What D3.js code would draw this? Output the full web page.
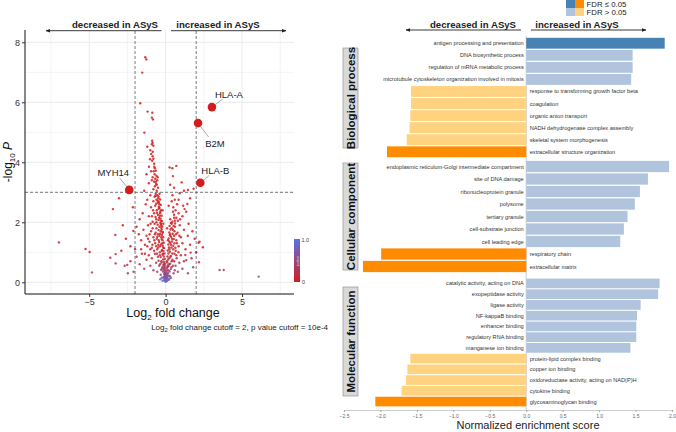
<!DOCTYPE html>
<html><head><meta charset="utf-8">
<script src="https://cdn.jsdelivr.net/npm/d3@7"></script>
<style>body{margin:0;background:#fff}svg{display:block;font-family:"Liberation Sans",Arial,Helvetica,sans-serif}</style>
</head><body><svg id="c" width="676" height="432"></svg>
<script>
// ---------------- Volcano data ----------------
const volcanoPoints = [
[-1.33,7.50],[-1.26,7.43],[-1.53,6.99],[-1.66,5.97],[-1.18,5.69],[-0.87,5.65],[-0.90,5.49],[-0.83,5.43],[-1.39,4.99],[-0.88,4.72],[-0.85,4.65],[-0.90,4.60],[-0.80,4.55],[-1.20,4.52],[-1.00,4.40],[-0.94,4.28],[-0.85,4.20],[-0.80,4.12],[-0.88,4.05],[-1.09,3.85],[-0.75,3.95],[-0.70,3.80],[-0.78,3.70],[-0.65,3.72],[-0.72,3.60],[-0.60,3.55],[-0.85,3.50],[-0.68,3.45],[-0.55,3.40],[-0.75,3.35],[-0.62,3.28],[-0.70,3.20],[-0.50,3.15],[-0.80,3.10],[-0.58,3.05],[0.26,3.83],[0.70,3.88],[0.44,3.80],[0.48,3.54],[1.05,3.33],[0.30,3.25],[0.55,3.15],[1.46,3.08],[1.83,3.12],[1.20,3.05],[-1.10,3.30],[-1.25,3.60],
[-3.05,2.80],[-3.45,2.44],[-2.14,2.50],[0.92,2.97],[1.24,2.44],[1.42,2.61],[-0.65,2.95],[-0.55,2.90],[-0.72,2.85],[-0.48,2.80],[-0.60,2.75],[-0.80,2.70],[-0.50,2.65],[-0.40,2.60],[-0.68,2.55],[-0.95,2.50],[-0.45,2.45],[-0.58,2.40],[-0.35,2.35],[-0.75,2.30],[-0.50,2.25],[-1.10,2.20],[-0.42,2.15],[-0.62,2.10],[-0.30,2.05],[-0.85,2.02],[-1.30,2.60],[-1.50,2.30],[-1.70,2.10],[-1.20,2.75],[0.45,2.90],[0.60,2.75],[0.75,2.60],[0.50,2.50],[0.65,2.40],[0.85,2.30],[0.55,2.25],[0.70,2.15],[0.95,2.10],[0.60,2.05],[1.10,2.20],[0.40,2.70],[1.60,2.80],[1.35,2.35],[-0.20,2.40],[0.20,2.55],
[-3.29,1.58],[-6.98,1.33],[-2.11,1.71],[2.16,1.32],[-5.24,1.11],[-4.97,1.01],[2.22,1.35],[2.44,1.17],[-2.60,1.45],[-2.30,1.20],[-1.90,1.85],[-1.75,1.60],[-1.60,1.40],[-1.45,1.75],[-1.35,1.25],[-1.25,1.55],[-1.15,1.90],[-1.05,1.35],[-0.95,1.70],[-0.90,1.15],[-0.80,1.50],[-0.72,1.95],[-0.68,1.30],[-0.60,1.80],[-0.55,1.10],[-0.50,1.60],[-0.45,1.40],[-0.40,1.85],[-0.36,1.20],[-0.32,1.70],[-0.28,1.50],[-0.25,1.05],[-0.22,1.30],[-0.40,1.55],[-0.48,1.25],[-0.58,1.45],[-0.65,1.65],[-0.75,1.05],[-0.85,1.80],[-1.00,1.10],[0.40,1.95],[0.48,1.75],[0.55,1.55],[0.62,1.85],[0.70,1.40],[0.78,1.65],[0.85,1.20],[0.92,1.90],[1.00,1.50],[1.10,1.30],[1.20,1.75],[1.30,1.10],[1.45,1.55],[1.60,1.25],[1.75,1.70],[0.35,1.25],[0.42,1.45],[0.50,1.10],[0.58,1.30],[0.66,1.05],[0.30,1.60],[0.25,1.10],[-0.15,1.15],[0.15,1.40],[-2.80,1.90],[-2.00,1.10],[1.90,1.45],[-0.30,1.90],[-0.20,1.65],
[-4.82,0.33],[-3.62,0.82],[-3.27,0.94],[-3.27,0.63],[-2.68,0.55],[-2.51,0.58],[-2.47,0.30],[3.53,0.41],[3.80,0.41],[6.09,0.19],[2.18,0.67],[1.46,0.30],[1.29,0.91],[1.64,0.99],[1.35,0.74],[-1.90,0.85],[-1.70,0.60],[-1.55,0.95],[-1.40,0.45],[-1.25,0.75],[-1.10,0.90],[-1.00,0.55],[-0.90,0.80],[-0.80,0.40],[-0.70,0.95],[-0.62,0.65],[-0.55,0.35],[-0.50,0.85],[-0.42,0.55],[-0.38,0.90],[-0.32,0.25],[-0.28,0.70],[-0.22,0.45],[-0.18,0.95],[-0.15,0.15],[-0.12,0.60],[-0.08,0.30],[-0.05,0.08],[0.00,0.02],[0.03,0.12],[0.06,0.05],[-0.03,0.20],[0.10,0.25],[0.14,0.10],[0.18,0.40],[0.22,0.60],[0.28,0.20],[0.32,0.85],[0.38,0.50],[0.45,0.75],[0.52,0.30],[0.58,0.95],[0.65,0.55],[0.72,0.80],[0.80,0.35],[0.90,0.65],[1.00,0.90],[1.10,0.45],[1.20,0.70],[0.12,0.50],[-0.10,0.40],[0.08,0.70],[-0.20,0.05],[0.20,0.08],[-0.25,0.15],[0.25,0.12],[-0.35,0.10],[0.35,0.15],[1.80,0.50],[-2.10,0.35],[0.05,0.35],[-0.06,0.55],
[-0.66,2.88],[-0.52,2.72],[-0.62,2.62],[-0.44,2.52],[-0.56,2.32],[-0.38,2.22],[-0.66,2.18],[-0.46,2.08],[-0.34,1.98],[-0.52,1.92],[-0.28,1.82],[-0.46,1.74],[-0.36,1.62],[-0.54,1.52],[-0.26,1.44],[-0.42,1.34],[-0.30,1.26],[-0.48,1.16],[-0.24,1.08],[-0.38,1.00],[-0.20,0.92],[-0.32,0.84],[-0.16,0.76],[-0.26,0.66],[-0.14,0.56],[-0.22,0.50],[-0.10,0.46],[-0.18,0.36],[-0.08,0.26],[-0.12,0.18],[-0.04,0.14],[-0.60,2.00],[-0.70,1.60],[-0.74,1.40],[-0.62,1.20],[-0.56,0.95],[-0.46,0.72],[-0.36,0.60],[-0.30,0.42],[-0.58,3.25],[-0.64,3.35],[-0.52,3.50],[-0.74,3.85],[-0.82,2.40],[-0.90,2.20],[-0.98,1.95],[-1.05,1.60],[-1.15,1.45],[-0.86,1.25],
[0.48,2.35],[0.56,2.15],[0.44,2.02],[0.62,1.96],[0.52,1.88],[0.40,1.80],[0.58,1.70],[0.46,1.62],[0.36,1.52],[0.54,1.44],[0.42,1.36],[0.30,1.32],[0.50,1.22],[0.38,1.16],[0.28,1.02],[0.44,0.96],[0.34,0.88],[0.24,0.80],[0.40,0.70],[0.30,0.62],[0.20,0.54],[0.34,0.44],[0.26,0.36],[0.16,0.30],[0.22,0.22],[0.12,0.18],[0.08,0.15],[0.68,1.60],[0.74,1.30],[0.64,1.15],[0.70,0.90],[0.56,0.70],[0.48,0.55],[0.60,0.40],[0.80,2.05],[0.90,1.55],[0.84,1.00],
[-0.02,0.04],[0.02,0.06],[-0.06,0.10],[0.05,0.10],[0.00,0.08],[-0.09,0.06],[0.09,0.04],[0.00,0.15],[-0.04,0.24],[0.04,0.20],
[-0.40,2.95],[-0.46,2.86],[-0.36,2.76],[-0.44,2.68],[-0.32,2.58],[-0.40,2.48],[-0.30,2.40],[-0.36,2.30],[-0.26,2.22],[-0.34,2.12],[-0.24,2.04],[-0.30,1.95],[-0.22,1.86],[-0.26,1.76],[-0.18,1.68],[-0.24,1.58],[-0.16,1.50],[-0.20,1.40],[-0.12,1.32],[-0.18,1.22],[-0.10,1.14],[-0.14,1.04],[-0.08,0.96],[-0.12,0.86],[-0.06,0.78],[-0.10,0.68],[-0.04,0.62],[-0.07,0.50],[-0.02,0.42],[-0.05,0.34],[-0.01,0.28],
[0.30,2.10],[0.34,1.98],[0.26,1.88],[0.32,1.76],[0.24,1.66],[0.28,1.56],[0.20,1.46],[0.24,1.36],[0.18,1.26],[0.22,1.16],[0.14,1.06],[0.18,0.96],[0.12,0.86],[0.16,0.76],[0.10,0.66],[0.13,0.56],[0.07,0.48],[0.10,0.40],[0.05,0.30],[0.07,0.24],
[-1.40,3.05],[-1.00,2.90],[-0.90,3.40],[-0.95,3.70],[-1.02,4.10],[-0.84,4.35],[-1.60,1.10],[-1.35,0.95],[-1.20,1.20],[-2.30,0.70],[-2.90,1.05],[1.50,1.95],[1.70,0.80],[2.00,1.00],[1.15,2.55],[0.85,2.75],[-0.15,1.95],[0.10,1.80]
];
const labelGenes = ["HLA-A","B2M","HLA-B","MYH14"];
const labelLog2FC = [3.03, 2.12, 2.27, -2.38];
const labelNegLogP = [5.84, 5.31, 3.32, 3.08];
const volcanoXTicks = [-5, 0, 5];
const volcanoYTicks = [0, 2, 4, 6, 8];
const fcCutoff = 2, pCutoffLog = 3;

// ---------------- Enrichment data ----------------
const bpTerms = ["antigen processing and presentation","DNA biosynthetic process","regulation of mRNA metabolic process","microtubule cytoskeleton organization involved in mitosis","response to transforming growth factor beta","coagulation","organic anion transport","NADH dehydrogenase complex assembly","skeletal system morphogenesis","extracellular structure organization"];
const bpNES = [1.90,1.46,1.46,1.44,-1.58,-1.58,-1.59,-1.60,-1.64,-1.91];
const bpSig = [1,0,0,0,0,0,0,0,0,1];
const ccTerms = ["endoplasmic reticulum-Golgi intermediate compartment","site of DNA damage","ribonucleoprotein granule","polysome","tertiary granule","cell-substrate junction","cell leading edge","respiratory chain","extracellular matrix"];
const ccNES = [1.96,1.67,1.56,1.49,1.39,1.34,1.29,-1.99,-2.24];
const ccSig = [0,0,0,0,0,0,0,1,1];
const mfTerms = ["catalytic activity, acting on DNA","exopeptidase activity","ligase activity","NF-kappaB binding","enhancer binding","regulatory RNA binding","manganese ion binding","protein-lipid complex binding","copper ion binding","oxidoreductase activity, acting on NAD(P)H","cytokine binding","glycosaminoglycan binding"];
const mfNES = [1.83,1.81,1.57,1.52,1.51,1.51,1.43,-1.59,-1.63,-1.65,-1.71,-2.07];
const mfSig = [0,0,0,0,0,0,0,0,0,0,0,1];
const facetNames = ["Biological process","Cellular component","Molecular function"];
const nesTicks = [-2.5,-2.0,-1.5,-1.0,-0.5,0.0,0.5,1.0,1.5,2.0];

const svg = d3.select("#c");
svg.append("rect").attr("width",676).attr("height",432).attr("fill","#fff");

// ============ VOLCANO ============
const vx = d3.scaleLinear().domain([-9.2, 8.4]).range([25, 294]);
const vy = d3.scaleLinear().domain([-0.39, 8.41]).range([294, 30]);
const V = svg.append("g");
const gridX = [-7.5,-5,-2.5,0,2.5,5,7.5];
V.selectAll(".gx").data(gridX).join("line").attr("x1",d=>vx(d)).attr("x2",d=>vx(d)).attr("y1",30).attr("y2",294)
 .attr("stroke","#ebebeb").attr("stroke-width",d=>d%5===0?1:0.6);
const gridY = [0,1,2,3,4,5,6,7,8];
V.selectAll(".gy").data(gridY).join("line").attr("x1",25).attr("x2",294).attr("y1",d=>vy(d)).attr("y2",d=>vy(d))
 .attr("stroke","#ebebeb").attr("stroke-width",d=>d%2===0?1:0.6);

const pColor = d3.scaleLinear().domain([0,1]).range(["#d41c1c","#5a72e2"]).interpolate(d3.interpolateRgb);
V.append("g").selectAll("circle").data(volcanoPoints).join("circle")
 .attr("cx",d=>vx(d[0])).attr("cy",d=>vy(d[1])).attr("r",1.2)
 .attr("fill",d=>pColor(Math.pow(10,-d[1]))).attr("opacity",0.85);

[-fcCutoff, fcCutoff].forEach(c=>{
  V.append("line").attr("x1",vx(c)).attr("x2",vx(c)).attr("y1",31).attr("y2",294)
   .attr("stroke","#444").attr("stroke-width",0.7).attr("stroke-dasharray","3,2");
});
V.append("line").attr("x1",25).attr("x2",294).attr("y1",vy(pCutoffLog)).attr("y2",vy(pCutoffLog))
 .attr("stroke","#444").attr("stroke-width",0.7).attr("stroke-dasharray","3,2");

const labOff = [[17,-13],[17,20],[15,-12],[-16,-17]];
labelGenes.forEach((g,i)=>{
  const px = vx(labelLog2FC[i]), py = vy(labelNegLogP[i]);
  const tx = px+labOff[i][0], ty = py+labOff[i][1];
  V.append("line").attr("x1",px).attr("y1",py).attr("x2",tx-(labOff[i][0]>0?8:-8)*0.8).attr("y2",ty+(labOff[i][1]<0?5:-6))
   .attr("stroke","#777").attr("stroke-width",0.6);
  V.append("circle").attr("cx",px).attr("cy",py).attr("r",4.3).attr("fill","#d41c1c");
  V.append("text").attr("x",tx).attr("y",ty+3.5).attr("text-anchor","middle").attr("font-size",9.5).attr("fill","#222").text(g);
});

const axL = V.append("g").attr("transform","translate(25,0)").call(d3.axisLeft(vy).tickValues(volcanoYTicks).tickSize(3).tickPadding(2).tickFormat(d3.format("d")));
axL.select(".domain").attr("stroke","#111").attr("d","M0,30V294");
axL.selectAll("text").attr("font-size",9).attr("fill","#333").attr("font-family","Liberation Sans, Arial");
axL.selectAll(".tick line").attr("stroke","#333");
const axB = V.append("g").attr("transform","translate(0,294)").call(d3.axisBottom(vx).tickValues(volcanoXTicks).tickSize(3).tickPadding(1.5).tickFormat(d3.format("d")));
axB.select(".domain").attr("stroke","#111").attr("d","M25,0H294");
axB.selectAll("text").attr("font-size",9).attr("fill","#333").attr("font-family","Liberation Sans, Arial");
axB.selectAll(".tick line").attr("stroke","#333");

const yl = V.append("text").attr("transform","translate(11.5,162) rotate(-90)").attr("text-anchor","middle").attr("font-size",12).attr("fill","#111");
yl.append("tspan").text("-log");
yl.append("tspan").attr("font-size",8).attr("dy",3).text("10");
yl.append("tspan").attr("dy",-3).text(" ");
yl.append("tspan").attr("font-style","italic").text("P");
const xl = V.append("text").attr("x",173).attr("y",316.5).attr("text-anchor","middle").attr("font-size",12.5).attr("fill","#111");
xl.append("tspan").text("Log");
xl.append("tspan").attr("font-size",8).attr("dy",3.5).text("2");
xl.append("tspan").attr("dy",-3.5).text(" fold change");
const cap = V.append("text").attr("x",328).attr("y",330).attr("text-anchor","end").attr("font-size",8).attr("fill","#222");
cap.append("tspan").text("Log");
cap.append("tspan").attr("font-size",5.8).attr("dy",2).text("2");
cap.append("tspan").attr("dy",-2).text(" fold change cutoff = 2, p value cutoff = 10e-4");

const defs = svg.append("defs");
const lg = defs.append("linearGradient").attr("id","pg").attr("x1",0).attr("x2",0).attr("y1",1).attr("y2",0);
[0,0.5,1].forEach(t=>lg.append("stop").attr("offset",t).attr("stop-color",pColor(t)));
V.append("rect").attr("x",294).attr("y",239).attr("width",6).attr("height",43).attr("fill","url(#pg)");
V.append("text").attr("x",301.5).attr("y",242).attr("font-size",5.5).attr("fill","#444").text("1.0");
V.append("text").attr("x",302).attr("y",283.5).attr("font-size",5.5).attr("fill","#444").text("0");
V.append("text").attr("transform","translate(298.5,261) rotate(-90)").attr("text-anchor","middle").attr("font-size",3.5).attr("fill","#ddd").text("pvalue");

// ============ arrows ============
defs.append("marker").attr("id","ah").attr("viewBox","0 0 10 10").attr("refX",9).attr("refY",5)
 .attr("markerWidth",5).attr("markerHeight",5).attr("orient","auto-start-reverse")
 .append("path").attr("d","M0,1L10,5L0,9z").attr("fill","#222");
function arrowPair(lx0,lx1,rx0,rx1,ay,lc,rc){
  svg.append("line").attr("x1",lx0).attr("x2",lx1).attr("y1",ay).attr("y2",ay).attr("stroke","#222").attr("stroke-width",0.9).attr("marker-end","url(#ah)");
  svg.append("line").attr("x1",rx0).attr("x2",rx1).attr("y1",ay).attr("y2",ay).attr("stroke","#222").attr("stroke-width",0.9).attr("marker-end","url(#ah)");
  svg.append("text").attr("x",lc).attr("y",ay-2.5).attr("text-anchor","middle").attr("font-size",9.6).attr("font-weight","bold").attr("fill","#222").text("decreased in ASyS");
  svg.append("text").attr("x",rc).attr("y",ay-2.5).attr("text-anchor","middle").attr("font-size",9.6).attr("font-weight","bold").attr("fill","#222").text("increased in ASyS");
}
arrowPair(161.5,46,171,286,30.7,115,218);
arrowPair(521,406,531,646,30,473,577);

// ============ ENRICHMENT ============
const ex = d3.scaleLinear().domain([-2.5,2.0]).range([344,672]);
const colors = {pos:["#B0C4DE","#4682B4"], neg:["#FFD27F","#FF8C00"]};
const facets = [
  {name:facetNames[0],terms:bpTerms,nes:bpNES,sig:bpSig,y0:36,y1:159,s0:48,s1:148},
  {name:facetNames[1],terms:ccTerms,nes:ccNES,sig:ccSig,y0:159,y1:274,s0:163,s1:270},
  {name:facetNames[2],terms:mfTerms,nes:mfNES,sig:mfSig,y0:277,y1:408,s0:287,s1:396}
];
const E = svg.append("g");
E.append("line").attr("x1",ex(0)).attr("x2",ex(0)).attr("y1",36).attr("y2",410).attr("stroke","#aaa").attr("stroke-width",0.6);
facets.forEach(f=>{
  const ys = d3.scalePoint().domain(f.terms).range([f.y0,f.y1]).padding(0.6);
  const bh = ys.step()*0.9;
  const rows = f.terms.map((t,i)=>({t,v:f.nes[i],s:f.sig[i]}));
  E.append("g").selectAll("rect").data(rows).join("rect")
   .attr("x",d=>ex(Math.min(0,d.v))).attr("width",d=>Math.abs(ex(d.v)-ex(0)))
   .attr("y",d=>ys(d.t)-bh/2).attr("height",bh)
   .attr("fill",d=>(d.v>0?colors.pos:colors.neg)[d.s]);
  E.append("g").selectAll("text").data(rows).join("text")
   .attr("x",d=>d.v>0?ex(0)-2.5:ex(0)+3.5).attr("y",d=>ys(d.t)+2)
   .attr("text-anchor",d=>d.v>0?"end":"start").attr("font-size",5.6).attr("fill","#333").text(d=>d.t);
  E.append("rect").attr("x",343).attr("y",f.s0).attr("width",15).attr("height",f.s1-f.s0)
   .attr("fill","#d9d9d9").attr("stroke","#888").attr("stroke-width",0.6);
  E.append("text").attr("transform",`translate(354.5,${(f.s0+f.s1)/2}) rotate(-90)`).attr("text-anchor","middle")
   .attr("font-size",11.5).attr("font-weight","bold").attr("fill","#111").text(f.name);
});
const axE = E.append("g").attr("transform","translate(0,410)").call(d3.axisBottom(ex).tickValues(nesTicks).tickSize(2).tickFormat(d3.format(".1f")));
axE.select(".domain").attr("stroke","#aaa").attr("stroke-width",0.6);
axE.selectAll(".tick line").attr("stroke","#aaa");
axE.selectAll("text").attr("font-size",5).attr("fill","#666").attr("dy","0.6em");
E.append("text").attr("x",528).attr("y",429).attr("text-anchor","middle").attr("font-size",11).attr("fill","#222").text("Normalized enrichment score");

const L = svg.append("g");
const legendLabels = ["FDR \u2264 0.05","FDR > 0.05"];
[1,0].forEach((s,r)=>{
  L.append("rect").attr("x",566).attr("y",r*8).attr("width",9).attr("height",8).attr("fill",colors.pos[s]);
  L.append("rect").attr("x",575).attr("y",r*8).attr("width",9).attr("height",8).attr("fill",colors.neg[s]);
  L.append("text").attr("x",586.5).attr("y",r*8+6.5).attr("font-size",7.8).attr("fill","#222").text(legendLabels[r]);
});
</script></body></html>
